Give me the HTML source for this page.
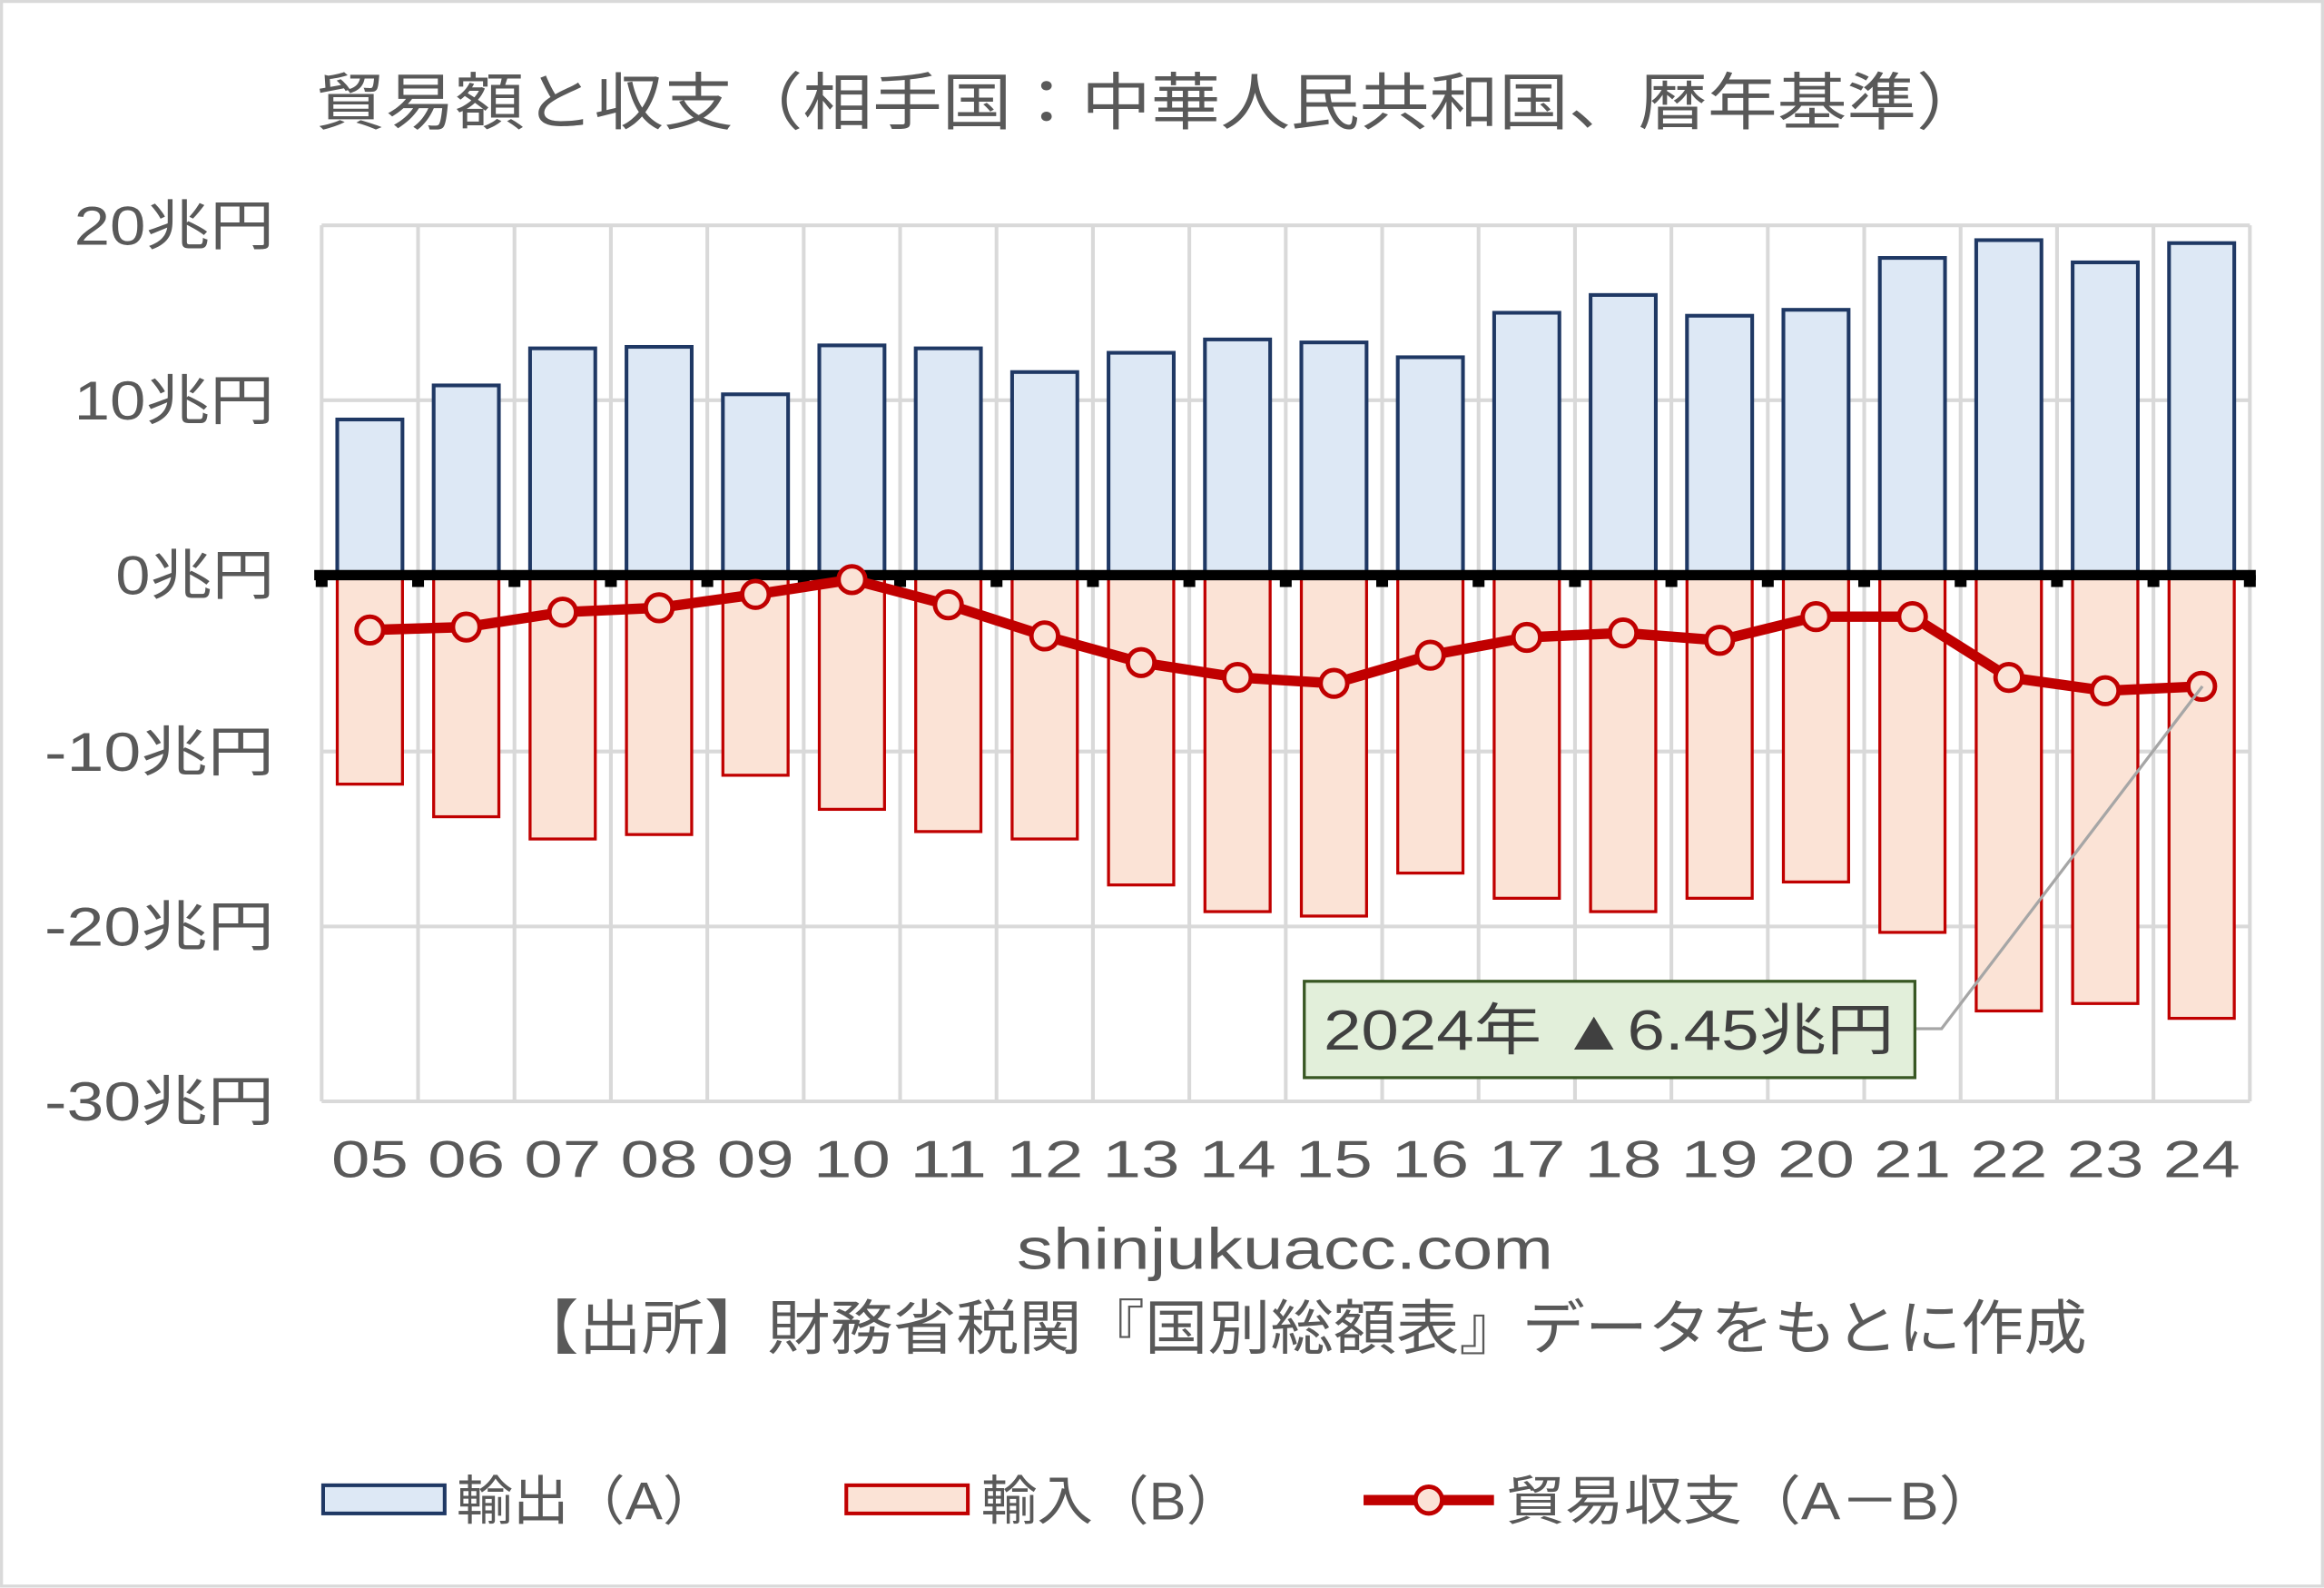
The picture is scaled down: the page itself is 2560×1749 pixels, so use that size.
<!DOCTYPE html>
<html><head><meta charset="utf-8"><style>html,body{margin:0;padding:0;background:#fff}svg{display:block}</style></head><body>
<svg width="2560" height="1749" viewBox="0 0 1568 1071.3" xmlns="http://www.w3.org/2000/svg" font-family="'Liberation Sans','Noto Sans CJK JP',sans-serif" fill="#595959">
<rect x="1" y="1" width="1566" height="1069" fill="#fff" stroke="#d9d9d9" stroke-width="2"/>
<text x="213" y="84" font-size="42" textLength="1127" lengthAdjust="spacingAndGlyphs">貿易額と収支（相手国：中華人民共和国、暦年基準）</text>
<g id="grid" stroke="#d9d9d9" stroke-width="2.5"></g>
<g id="bars"></g>
<g id="yl" font-size="37" text-anchor="end"></g>
<g id="xl" font-size="35" text-anchor="middle"></g>
<polyline points="1292,694 1310,694 1486,463" fill="none" stroke="#a6a6a6" stroke-width="2"/>
<rect x="880" y="662" width="412" height="65" fill="#e2efda" stroke="#385723" stroke-width="2"/>
<text x="893" y="708" font-size="38" fill="#404040" textLength="385" lengthAdjust="spacingAndGlyphs">2024年 ▲6.45兆円</text>
<text x="686" y="856" font-size="39" textLength="362" lengthAdjust="spacingAndGlyphs">shinjukuacc.com</text>
<text x="348" y="910" font-size="40" textLength="1060" lengthAdjust="spacingAndGlyphs">【出所】財務省税関『国別総額表』データをもとに作成</text>
<rect x="218" y="1002" width="82" height="19" fill="#dde8f5" stroke="#1f3864" stroke-width="2.5"/>
<text x="308" y="1025" font-size="36" textLength="177" lengthAdjust="spacingAndGlyphs">輸出（A）</text>
<rect x="571" y="1002" width="82" height="19" fill="#fbe3d6" stroke="#c00000" stroke-width="2.5"/>
<text x="662" y="1025" font-size="36" textLength="176" lengthAdjust="spacingAndGlyphs">輸入（B）</text>
<line x1="920" y1="1012" x2="1008" y2="1012" stroke="#c00000" stroke-width="7"/>
<circle cx="964" cy="1012" r="9" fill="#fbe3d6" stroke="#c00000" stroke-width="3"/>
<text x="1016" y="1025" font-size="36" textLength="332" lengthAdjust="spacingAndGlyphs">貿易収支（A－B）</text>
<script>
const ns="http://www.w3.org/2000/svg";
function el(p,t,a,txt){const e=document.createElementNS(ns,t);for(const k in a)e.setAttribute(k,a[k]);if(txt)e.textContent=txt;(typeof p==="string"?document.getElementById(p):p).appendChild(e);return e;}
const L=217,R=1518,W=(R-L)/20;
const ys=[152,270,388,507,625,743],lab=["20兆円","10兆円","0兆円","-10兆円","-20兆円","-30兆円"],lw=[135,135,107,155,155,155];
ys.forEach((y,i)=>{if(i!=2)el("grid","line",{x1:L,x2:R,y1:y,y2:y});el("yl","text",{x:185,y:y+13,textLength:lw[i],lengthAdjust:"spacingAndGlyphs"},lab[i]);});
for(let i=0;i<=20;i++){const x=L+W*i;el("grid","line",{x1:x,x2:x,y1:152,y2:743});}
const ex=[283,260,235,234,266,233,235,251,238,229,231,241,211,199,213,209,174,162,177,164];
const im=[529,551,566,563,523,546,561,566,597,615,618,589,606,615,606,595,629,682,677,687];
const ln=[425,423,413,410,401,391,408,429,447,457,461,442,430,427,432,416,416,457,466,463];
let pts=[];
for(let i=0;i<20;i++){const c=L+W*(i+.5);
el("bars","rect",{x:c-22,y:ex[i],width:44,height:388-ex[i],fill:"#dde8f5",stroke:"#1f3864","stroke-width":2.5});
el("bars","rect",{x:c-22,y:388,width:44,height:im[i]-388,fill:"#fbe3d6",stroke:"#c00000","stroke-width":2});
el("xl","text",{x:c,y:794,textLength:52,lengthAdjust:"spacingAndGlyphs"},String(i+5).padStart(2,"0"));pts.push(c+","+ln[i]);}
const b=document.getElementById("bars");
el(b,"line",{x1:212,x2:1522,y1:388,y2:388,stroke:"#000","stroke-width":7});
for(let i=0;i<=20;i++){const x=L+W*i;el(b,"rect",{x:x-4,y:388,width:8,height:8,fill:"#000"});}
el(b,"polyline",{points:pts.join(" "),fill:"none",stroke:"#c00000","stroke-width":7,"stroke-linejoin":"round"});
for(let i=0;i<20;i++){const c=L+W*(i+.5);el(b,"circle",{cx:c,cy:ln[i],r:9,fill:"#fbe3d6",stroke:"#c00000","stroke-width":3});}
</script>
</svg>
</body></html>
